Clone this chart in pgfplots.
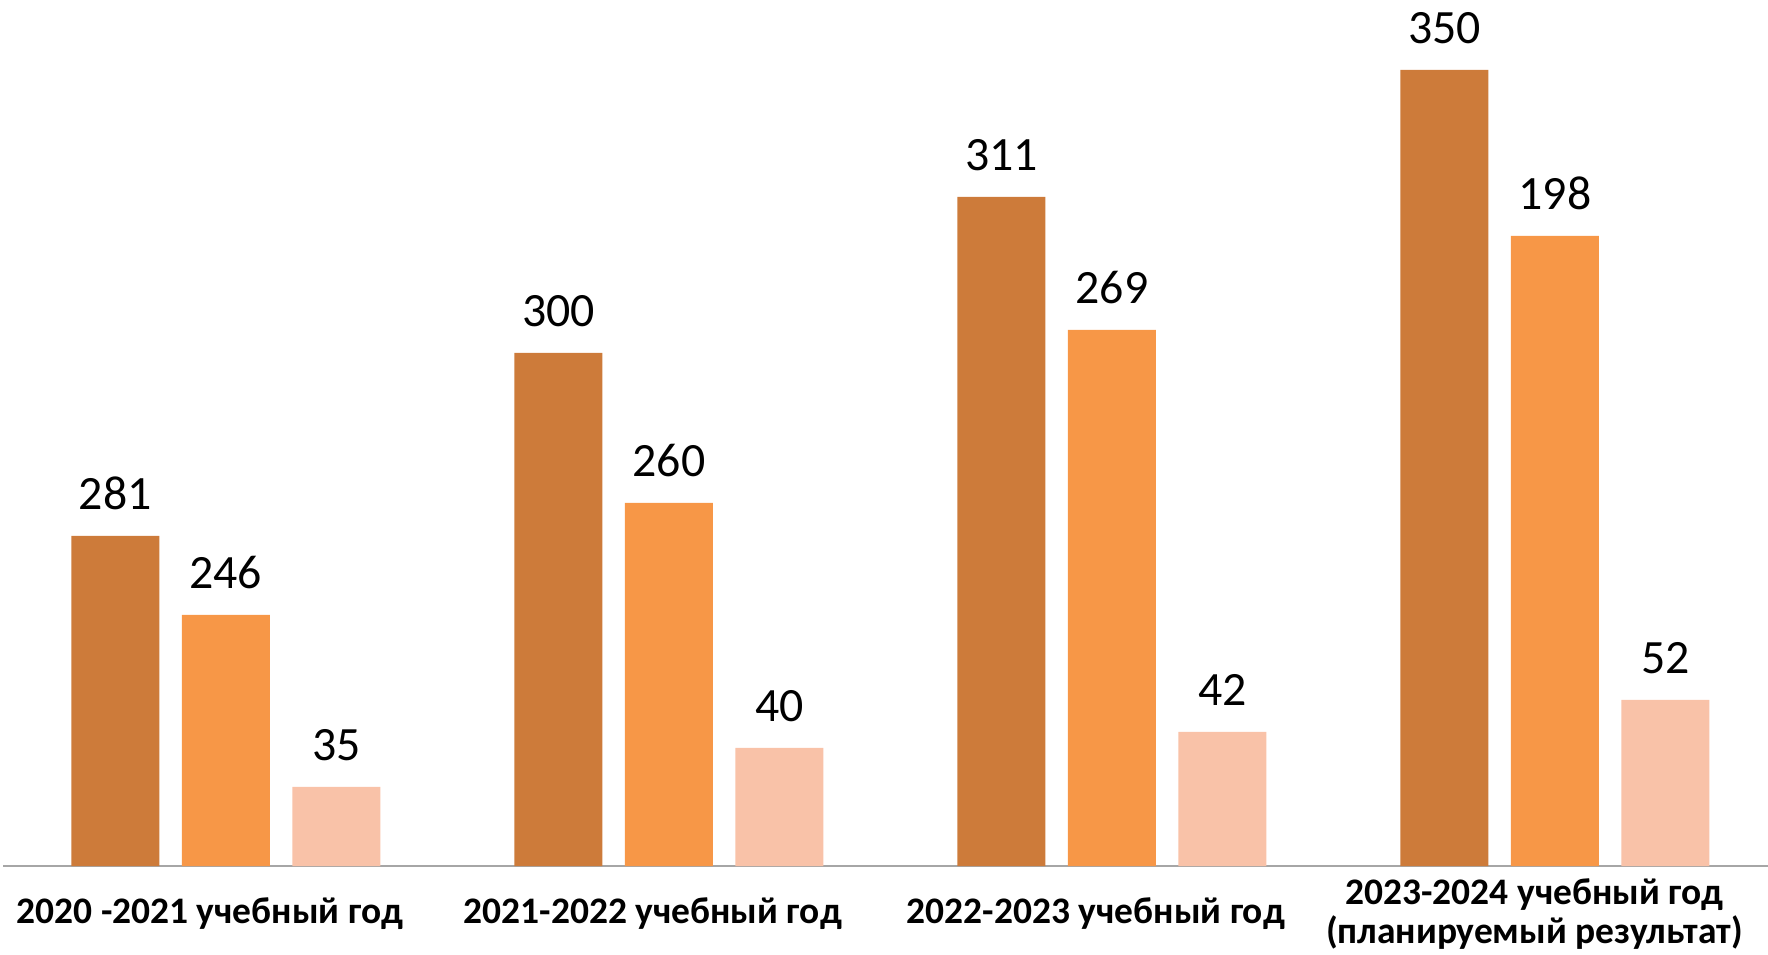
\documentclass[border=0pt]{standalone}
\usepackage{pgfplots}
\pgfplotsset{compat=1.18}
\usepackage{fontspec}
\setmainfont{Carlito}
\definecolor{c1}{HTML}{CD7B3A}
\definecolor{c2}{HTML}{F79747}
\definecolor{c3}{HTML}{F9C2A8}
\begin{document}
\begin{tikzpicture}
\begin{axis}[
  scale only axis, width=882.3bp, height=433bp,
  xmin=-0.503, xmax=3.48, ymin=0, ymax=866,
  axis x line=bottom, axis y line=none,
  axis line style={-, draw=gray!70, line width=1.25bp},
  xtick={0,1,2,2.99}, major tick length=0,
  xticklabels={{2020 -2021 учебный год},{2021-2022 учебный год},{2022-2023 учебный год},{2023-2024 учебный год\\(планируемый результат)}},
  xticklabel style={font=\fontsize{18.8}{19.5}\selectfont\bfseries, align=center, anchor=center, yshift=-24bp, xshift=-8bp},
  ybar, bar width=0.1986,
  nodes near coords, point meta=explicit symbolic,
  every node near coord/.append style={font=\fontsize{24}{24}\selectfont, anchor=south, inner sep=0pt, yshift=13bp, text=black},
  clip=false,
]
\addplot[fill=c1, draw=none, bar shift=-0.2494] coordinates {(0,330)[281] (1,513)[300] (2,669)[311] (3,796)[350]};
\addplot[fill=c2, draw=none, bar shift=0] coordinates {(0,251)[246] (1,363)[260] (2,536)[269] (3,630)[198]};
\addplot[fill=c3, draw=none, bar shift=0.2494] coordinates {(0,79)[35] (1,118)[40] (2,134)[42] (3,166)[52]};
\end{axis}
\pgfresetboundingbox
\path[use as bounding box] (-1.5bp,-44.5bp) rectangle (882.5bp,433bp);
\end{tikzpicture}
\end{document}
